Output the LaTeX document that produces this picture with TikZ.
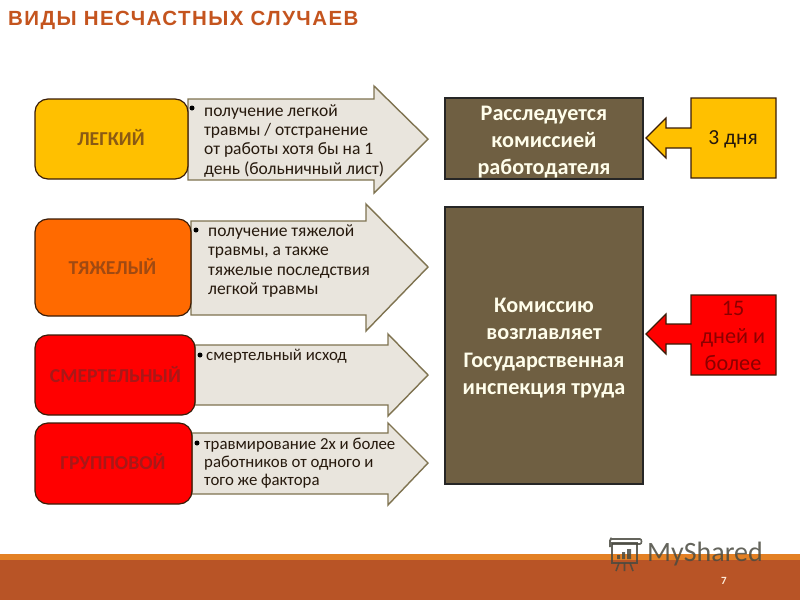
\documentclass[tikz,border=0pt]{standalone}
\usepackage{fontspec}
\setmainfont{Carlito}
\newfontfamily\tfont{Liberation Sans}
\definecolor{amber}{HTML}{FFC000}
\definecolor{orng}{HTML}{FF6A00}
\definecolor{redd}{HTML}{FF0000}
\definecolor{brownb}{HTML}{6F5F42}
\definecolor{beige}{HTML}{E9E5DD}
\definecolor{arrowline}{HTML}{7F7350}
\definecolor{titlec}{HTML}{C4541E}
\definecolor{footb}{HTML}{B85426}
\definecolor{footo}{HTML}{E38024}
\definecolor{darkl}{HTML}{3A1D08}
\definecolor{wm}{HTML}{4A4A40}
\definecolor{lab}{HTML}{8A5A14}
\definecolor{labo}{HTML}{A04A12}
\definecolor{labr}{HTML}{A81818}
\tikzset{x=1pt,y=-1pt,
  levelbox/.style={draw=darkl,line width=1.2pt,rounded corners=13pt},
  blockarrow/.style={draw=arrowline,fill=beige,line width=1.4pt,line join=miter},
  levellabel/.style={font=\bfseries\fontsize{19.7}{22}\selectfont,anchor=center},
  desc/.style={font=\fontsize{17.5}{19.4}\selectfont,align=left,anchor=north west,inner sep=0pt,text=black!80!brown},
  descsmall/.style={font=\fontsize{16.8}{18}\selectfont},
  bullet/.style={circle,fill=black,inner sep=0pt,minimum size=5pt},
  brownbox/.style={draw=black!85,fill=brownb,line width=1.2pt},
  browntext/.style={font=\bfseries\fontsize{22.2}{27.2}\selectfont,align=center,text=white!92!yellow,anchor=center},
  sidebox/.style={draw=darkl,line width=1.2pt}
}
\begin{document}
\begin{tikzpicture}
\useasboundingbox (0,0) rectangle (800,600);
\fill[white] (0,0) rectangle (800,600);
% footer
\fill[footo] (0,554) rectangle (800,560);
\fill[footb] (0,560) rectangle (800,600);
\node[font=\tfont\bfseries\fontsize{20.5}{23}\selectfont,text=titlec,anchor=west,inner sep=0pt] (title) at (8,20) {\addfontfeature{LetterSpace=7}ВИДЫ НЕСЧАСТНЫХ СЛУЧАЕВ};
% block arrows
\draw[blockarrow] (188,99) -- (374,99) -- (374,86) -- (428,139) -- (374,193) -- (374,180) -- (188,180) -- cycle;
\draw[blockarrow] (191,221) -- (366,221) -- (366,204) -- (428,267) -- (366,331) -- (366,315) -- (191,315) -- cycle;
\draw[blockarrow] (195,345) -- (388,345) -- (388,334) -- (428,375) -- (388,416) -- (388,405) -- (195,405) -- cycle;
\draw[blockarrow] (192,433) -- (388,433) -- (388,423) -- (428,463) -- (388,505) -- (388,494) -- (192,494) -- cycle;
% level boxes
\draw[levelbox,fill=amber] (35,99) rectangle (188,179);
\draw[levelbox,fill=orng] (35,219) rectangle (191,316);
\draw[levelbox,fill=redd] (35,335) rectangle (195,415);
\draw[levelbox,fill=redd] (35,423) rectangle (192,504);
\node[levellabel,text=lab] (l1) at (111,138) {ЛЕГКИЙ};
\node[levellabel,text=labo] (l2) at (112.5,267) {ТЯЖЕЛЫЙ};
\node[levellabel,text=labr] (l3) at (115.5,375) {СМЕРТЕЛЬНЫЙ};
\node[levellabel,text=labr] (l4) at (113,462) {ГРУППОВОЙ};
% descriptions
\node[bullet] (b1) at (192,108) {};
\node[desc] (d1) at (204,104) {получение легкой\\травмы / отстранение\\от работы хотя бы на 1\\день (больничный лист)};
\node[bullet] (b2) at (196,230) {};
\node[desc] (d2) at (208,224.5) {получение тяжелой\\травмы, а также\\тяжелые последствия\\легкой травмы};
\node[bullet] (b3) at (200,355) {};
\node[desc,descsmall] (d3) at (206,349) {смертельный исход};
\node[bullet] (b4) at (197,443) {};
\node[desc,descsmall] (d4) at (204,437.5) {травмирование 2х и более\\работников от одного и\\того же фактора};
% brown boxes
\draw[brownbox] (445,98) rectangle (643,179);
\node[browntext] (t1) at (544,142) {Расследуется\\комиссией\\работодателя};
\draw[brownbox] (445,207) rectangle (643,484);
\node[browntext] (t2) at (544,348) {Комиссию\\возглавляет\\Государственная\\инспекция труда};
% side arrows
\draw[sidebox,fill=amber] (691,98) -- (776,98) -- (776,178) -- (691,178) -- (691,148) -- (666,148) -- (666,158) -- (646,138) -- (666,118) -- (666,128) -- (691,128) -- cycle;
\node[font=\fontsize{21.5}{24}\selectfont,text=black!80!brown] (s1) at (733,139) {3 дня};
\draw[sidebox,fill=redd] (691,295) -- (776,295) -- (776,375) -- (691,375) -- (691,344) -- (666,344) -- (666,354) -- (646,334) -- (666,314) -- (666,324) -- (691,324) -- cycle;
\node[font=\fontsize{22.2}{27.2}\selectfont,align=center,text=red!55!black] (s2) at (733,336) {15\\дней и\\более};
% watermark
\begin{scope}[draw=wm,line width=1.6pt,opacity=.85]
\draw (612,543) rectangle (637,563);
\draw (610,540) -- (610,547) (612,540) .. controls (612,538) and (610,538) .. (610,540) (612,539) -- (640,539) .. controls (642,539) and (642,544) .. (640,544) -- (612,544);
\draw (619,563) -- (616,571) (630,563) -- (633,571) (624.5,563) -- (624.5,571);
\fill[wm] (617,555) rectangle (620,559) (622,552) rectangle (625,559) (627,549) rectangle (631,559);
\end{scope}
\node[font=\fontsize{28}{30}\selectfont,text=wm,opacity=.85,anchor=west,inner sep=0pt] (wmk) at (647,554) {MyShared};
\node[font=\bfseries\fontsize{11}{12}\selectfont,text=white!85!orange] (pg) at (724,581) {7};
\end{tikzpicture}
\end{document}
